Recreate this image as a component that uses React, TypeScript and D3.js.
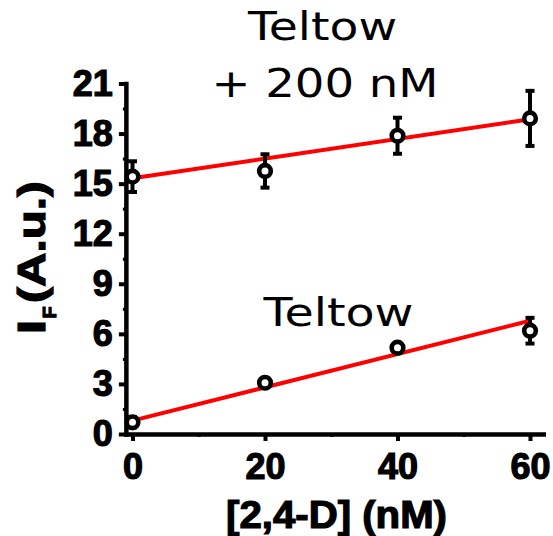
import * as d3 from "d3";
import { useEffect, useRef } from "react";

// [2,4-D] concentrations (nM)
const concentrations = [0, 20, 40, 60];

// Teltow water, no spike
const teltowMean = [0.7, 3.07, 5.17, 6.19];
const teltowErr = [0.3, 0.2, 0.25, 0.77];

// Teltow water + 200 nM
const spikedMean = [15.42, 15.76, 17.87, 18.91];
const spikedErr = [0.92, 1.0, 1.08, 1.65];

// linear fits (intercept, slope)
const fitIntercepts = [0.8, 15.32];
const fitSlopes = [0.0998, 0.059];
const fitRange = [0, 60];

const yTicks = [0, 3, 6, 9, 12, 15, 18, 21];
const yMinorTicks = [1.5, 4.5, 7.5, 10.5, 13.5, 16.5, 19.5];
const xTicks = [0, 20, 40, 60];
const xMinorTicks = [10, 30, 50];

const xTitle = "[2,4-D] (nM)";
const yTitleMain = "I";
const yTitleSub = "F";
const yTitleRest = "(A.u.)";
const topLabel = ["Teltow", "+ 200 nM"];
const bottomLabel = "Teltow";

const W = 553;
const H = 536;
const BOLD = "'Liberation Sans', Arial, sans-serif";
const PLAIN = "'DejaVu Sans', Verdana, sans-serif";

function draw(svgElement: SVGSVGElement | null) {
  if (!svgElement) return;
  const svg = d3.select(svgElement);
  svg.selectAll("*").remove();

  const x = d3.scaleLinear().domain([-1, 62]).range([125.875, 543.25]);
  const y = d3.scaleLinear().domain([0, 21]).range([434, 83.5]);

  // y axis
  const yAxis = svg
    .append("g")
    .attr("transform", `translate(${x(-1)},0)`)
    .call(
      d3
        .axisLeft(y)
        .tickValues(yTicks)
        .tickSize(7)
        .tickSizeOuter(0)
        .tickPadding(6)
        .tickFormat((d) => String(d))
    );
  styleAxis(yAxis);

  svg
    .append("g")
    .attr("transform", `translate(${x(-1)},0)`)
    .call(d3.axisLeft(y).tickValues(yMinorTicks).tickSize(3).tickFormat(() => ""))
    .call((g) => g.select(".domain").remove())
    .selectAll("line")
    .attr("stroke", "#000")
    .attr("stroke-width", 3);

  // x axis
  const xAxis = svg
    .append("g")
    .attr("transform", `translate(0,${y(0)})`)
    .call(
      d3
        .axisBottom(x)
        .tickValues(xTicks)
        .tickSize(7)
        .tickSizeOuter(0)
        .tickPadding(12)
        .tickFormat((d) => String(d))
    );
  styleAxis(xAxis);

  svg
    .append("g")
    .attr("transform", `translate(0,${y(0)})`)
    .call(d3.axisBottom(x).tickValues(xMinorTicks).tickSize(3).tickFormat(() => ""))
    .call((g) => g.select(".domain").remove())
    .selectAll("line")
    .attr("stroke", "#000")
    .attr("stroke-width", 3);

  // fit lines
  fitIntercepts.forEach((b, i) => {
    const pts = fitRange.map((c) => [x(c), y(b + fitSlopes[i] * c)] as [number, number]);
    svg
      .append("path")
      .attr("d", d3.line()(pts))
      .attr("fill", "none")
      .attr("stroke", "#ff0000")
      .attr("stroke-width", 4);
  });

  // error bars + markers
  [
    { mean: teltowMean, err: teltowErr },
    { mean: spikedMean, err: spikedErr },
  ].forEach(({ mean, err }) => {
    const g = svg.append("g");
    concentrations.forEach((c, i) => {
      const cx = x(c);
      const top = y(mean[i] + err[i]);
      const bot = y(mean[i] - err[i]);
      g.append("line")
        .attr("x1", cx).attr("x2", cx)
        .attr("y1", top).attr("y2", bot)
        .attr("stroke", "#000").attr("stroke-width", 4);
      [top, bot].forEach((yy) => {
        g.append("line")
          .attr("x1", cx - 4.5).attr("x2", cx + 4.5)
          .attr("y1", yy).attr("y2", yy)
          .attr("stroke", "#000").attr("stroke-width", 4);
      });
    });
    g.selectAll("circle")
      .data(mean)
      .join("circle")
      .attr("cx", (_, i) => x(concentrations[i]))
      .attr("cy", (d) => y(d))
      .attr("r", 5.8)
      .attr("fill", "#fff")
      .attr("stroke", "#000")
      .attr("stroke-width", 4.6);
  });

  // annotations
  const plain = (txt: string, cx: number, base: number, len: number) =>
    svg
      .append("text")
      .attr("x", cx)
      .attr("y", base)
      .attr("text-anchor", "middle")
      .attr("font-family", PLAIN)
      .attr("font-size", 39)
      .attr("textLength", len)
      .attr("lengthAdjust", "spacingAndGlyphs")
      .text(txt);
  plain(topLabel[0], 322.5, 40, 149);
  plain(topLabel[1], 325, 96.5, 227);
  plain(bottomLabel, 338.5, 326, 150);

  // x title
  svg
    .append("text")
    .attr("x", 336.5)
    .attr("y", 528)
    .attr("text-anchor", "middle")
    .attr("font-family", BOLD)
    .attr("font-weight", "bold")
    .attr("font-size", 38)
    .attr("stroke", "#000")
    .attr("stroke-width", 1.2)
    .attr("textLength", 221)
    .attr("lengthAdjust", "spacingAndGlyphs")
    .text(xTitle);

  // y title (rotated)
  const yt = svg.append("g").attr("transform", "translate(45,0) rotate(-90)");
  const boldText = (txt: string, u: number, v: number, size: number, len: number) =>
    yt
      .append("text")
      .attr("x", u)
      .attr("y", v)
      .attr("font-family", BOLD)
      .attr("font-weight", "bold")
      .attr("font-size", size)
      .attr("stroke", "#000")
      .attr("stroke-width", 1.2)
      .attr("textLength", len)
      .attr("lengthAdjust", "spacingAndGlyphs")
      .text(txt);
  boldText(yTitleMain, -334, 0, 38, 14);
  boldText(yTitleSub, -318.5, 10.5, 18, 12);
  boldText(yTitleRest, -303, 0, 38, 122);
}

function styleAxis(g: d3.Selection<SVGGElement, unknown, null, undefined>) {
  g.attr("font-family", BOLD).attr("font-size", 36).attr("font-weight", "bold");
  g.select(".domain")
    .attr("stroke", "#000")
    .attr("stroke-width", 4.5)
    .attr("stroke-linecap", "square");
  g.selectAll(".tick line").attr("stroke", "#000").attr("stroke-width", 4);
  g.selectAll(".tick text")
    .attr("fill", "#000")
    .attr("stroke", "#000")
    .attr("stroke-width", 1.2);
}

export default function App() {
  const svgRef = useRef<SVGSVGElement>(null);

  useEffect(() => {
    draw(svgRef.current);
  }, []);

  return (
    <div style={{ position: "absolute", left: 0, top: 0 }}>
      <svg
        ref={svgRef}
        width={W}
        height={H}
        viewBox={`0 0 ${W} ${H}`}
        style={{ display: "block", background: "#fff" }}
      />
    </div>
  );
}
